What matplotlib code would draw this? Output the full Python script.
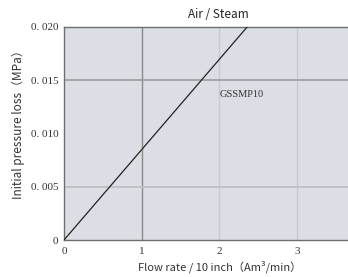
import matplotlib
matplotlib.use('Agg')
import matplotlib.pyplot as plt

# data
flow = [0.0, 2.36]
pressure = [0.0, 0.020]
x_ticks = [0, 1, 2, 3]
x_tick_labels = ['0', '1', '2', '3']
y_ticks = [0, 0.005, 0.010, 0.015, 0.020]
y_tick_labels = ['0', '0. 005', '0. 010', '0. 015', '0. 020']
vgrid = [1, 2, 3]
vgrid_colors = ['#8a8a8a', '#c8cad0', '#c8cad0']
hgrid = [0.005, 0.015]
hgrid_colors = ['#bdbec3', '#9a9b9f']
series_label = 'GSSMP10'

sans = ['Noto Sans CJK SC', 'DejaVu Sans']
serif = ['Liberation Serif', 'DejaVu Serif']

fig = plt.figure(figsize=(3.48, 2.77), dpi=100)
ax = fig.add_axes([64 / 348, 37 / 277, 284 / 348, 213 / 277])
ax.set_facecolor('#dcdee6')

for x, c in zip(vgrid, vgrid_colors):
    ax.axvline(x, color=c, linewidth=1.0, zorder=1)
for y, c in zip(hgrid, hgrid_colors):
    ax.axhline(y, color=c, linewidth=1.2, zorder=1)

ax.plot(flow, pressure, color='#222222', linewidth=0.9, zorder=3)
ax.text(2.0, 0.0137, series_label, fontsize=7.5, family=serif, color='#333333', va='center')

ax.set_xlim(0, 3.66)
ax.set_ylim(0, 0.020)
ax.set_xticks(x_ticks)
ax.set_xticklabels(x_tick_labels, family=serif, fontsize=8, color='#333333')
ax.set_yticks(y_ticks)
ax.set_yticklabels(y_tick_labels, family=serif, fontsize=8, color='#333333')
ax.tick_params(axis='y', length=0, pad=4)
ax.tick_params(axis='x', length=0, pad=5)

for s in ['left', 'bottom', 'top']:
    ax.spines[s].set_color('#6e6e6e')
    ax.spines[s].set_linewidth(1.0)
ax.spines['right'].set_visible(False)

fig.text(218 / 348, 1 - 15 / 277, 'Air / Steam', ha='center', va='center',
         fontsize=8.5, family=sans, color='#222222')
fig.text(220 / 348, 1 - 267 / 277, 'Flow rate / 10 inch（Am³/min）', ha='center', va='center',
         fontsize=8, family=sans, color='#333333')
fig.text(18 / 348, 1 - 122 / 277, 'Initial pressure loss（MPa）', ha='center', va='center',
         rotation=90, fontsize=8.5, family=sans, color='#333333')

fig.savefig('out.png', dpi=100, facecolor='white')
